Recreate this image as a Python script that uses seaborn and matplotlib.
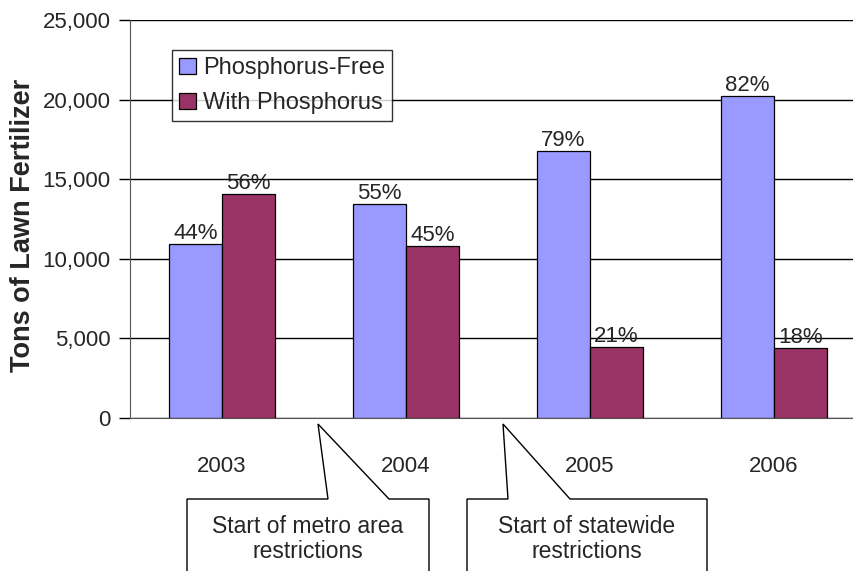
import numpy as np
import pandas as pd
import matplotlib.pyplot as plt
import seaborn as sns
from matplotlib.patches import Polygon

# values
years = ['2003', '2004', '2005', '2006']
free_tons = [10900, 13450, 16750, 20200]
with_tons = [14050, 10800, 4480, 4400]
free_pct = ['44%', '55%', '79%', '82%']
with_pct = ['56%', '45%', '21%', '18%']
series = ['Phosphorus-Free', 'With Phosphorus']
colors = ['#9999FF', '#993366']
callouts = ['Start of metro area\nrestrictions', 'Start of statewide\nrestrictions']

df = pd.DataFrame({
    'Year': years * 2,
    'Tons': free_tons + with_tons,
    'Type': [series[0]] * 4 + [series[1]] * 4,
})

sns.set_style('white')
plt.rcParams['font.family'] = ['Liberation Sans', 'DejaVu Sans']

W, H = 854, 571
fig = plt.figure(figsize=(W / 100, H / 100), dpi=100)
# axes runs off the right edge like the original
ax = fig.add_axes([130 / W, 1 - 418 / H, 736 / W, 398 / H])

sns.barplot(data=df, x='Year', y='Tons', hue='Type', hue_order=series,
            palette=colors, width=0.58, edgecolor='black', linewidth=0.9,
            saturation=1, ax=ax)

ax.set_xlim(-0.5, 3.5)
ax.set_ylim(0, 25000)
ax.set_yticks(np.arange(0, 25001, 5000))
ax.set_yticklabels([f'{v:,}' for v in range(0, 25001, 5000)], fontsize=16)
ax.yaxis.grid(True, color='black', linewidth=1)
ax.set_axisbelow(True)

ax.set_xticks(range(4))
ax.set_xticklabels(years, fontsize=16)
ax.tick_params(axis='x', length=0, pad=27)
ax.set_xticks([0.5, 1.5, 2.5], minor=True)
ax.tick_params(axis='x', which='minor', length=7, width=1, color='#444444', direction='out')
ax.tick_params(axis='y', length=8, width=1, color='black', direction='out', left=True, pad=6)

for s in ['top', 'right']:
    ax.spines[s].set_visible(False)
ax.spines['left'].set_color('#555555')
ax.spines['bottom'].set_color('#555555')

ax.set_xlabel('')
ax.set_ylabel('Tons of Lawn Fertilizer', fontsize=19.5, fontweight='bold')
ax.yaxis.set_label_coords(-0.128, 0.485)

for cont, labels in zip(ax.containers, [free_pct, with_pct]):
    ax.bar_label(cont, labels=labels, padding=0, fontsize=16)

leg = ax.legend(loc='upper left', bbox_to_anchor=(172 / W, 1 - 50 / H),
                bbox_transform=fig.transFigure, fontsize=17, frameon=True,
                fancybox=False, edgecolor='black', borderpad=0.3,
                handlelength=0.7, handleheight=0.7, handletextpad=0.3,
                labelspacing=0.55, borderaxespad=0)
leg.get_frame().set_linewidth(1)


def px(x, y):
    return (x / W, 1 - y / H)


# callout boxes below the axis
shapes = [
    (187, 429, 328, 389, (318, 424)),
    (467, 707, 508, 570, (503, 424)),
]
for (x0, x1, b0, b1, tip), text in zip(shapes, callouts):
    pts = [px(x0, 499), px(b0, 499), px(*tip), px(b1, 499), px(x1, 499),
           px(x1, 580), px(x0, 580)]
    fig.patches.append(Polygon(pts, closed=True, facecolor='white', edgecolor='black',
                               linewidth=1, transform=fig.transFigure, zorder=5))
    fig.text((x0 + x1) / 2 / W, 1 - 539 / H, text, ha='center', va='center',
             fontsize=16.5, linespacing=1.15, zorder=6)

fig.savefig('out.png', dpi=100)
